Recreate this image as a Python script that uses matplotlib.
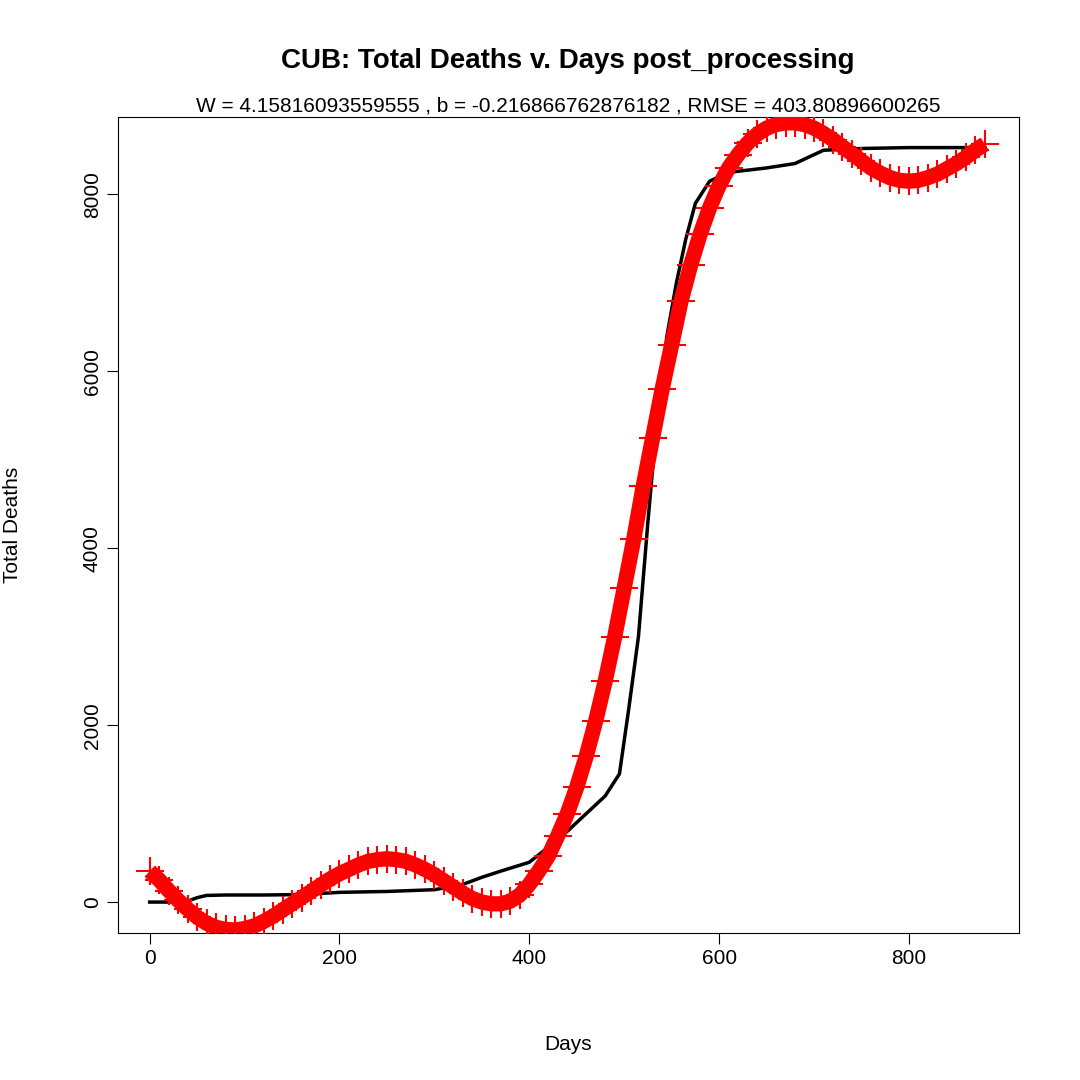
import matplotlib
matplotlib.use("Agg")
import matplotlib.pyplot as plt

plt.rcParams["font.family"] = ["Liberation Sans", "DejaVu Sans"]

# observed cumulative deaths
obs_days = [0, 20, 40, 50, 60, 80, 120, 160, 200, 250, 300, 330, 350, 370, 400, 420, 440,
            460, 480, 495, 505, 515, 525, 535, 545, 555, 565, 575, 590, 610, 650, 680,
            700, 710, 750, 800, 880]
obs_deaths = [0, 0, 10, 50, 75, 80, 80, 85, 110, 120, 140, 200, 280, 350, 450, 620, 800,
              1000, 1200, 1450, 2200, 3000, 4300, 5500, 6400, 7000, 7500, 7900, 8150,
              8250, 8300, 8350, 8450, 8500, 8520, 8530, 8530]

# fitted values
fit_days = list(range(0, 881, 10))
fit_deaths = [350, 250, 130, 20, -80, -170, -240, -285, -310, -315, -300, -270, -220, -160,
              -90, -20, 50, 120, 190, 260, 320, 370, 420, 460, 480, 490, 480, 460, 420, 370,
              310, 240, 170, 100, 40, 0, -20, -20, 10, 80, 200, 350, 520, 750, 1000, 1300,
              1650, 2050, 2500, 3000, 3550, 4100, 4700, 5250, 5800, 6300, 6800, 7200, 7550,
              7850, 8100, 8300, 8450, 8580, 8680, 8750, 8790, 8810, 8810, 8790, 8750, 8690,
              8620, 8540, 8460, 8380, 8300, 8240, 8190, 8160, 8150, 8160, 8190, 8230, 8290,
              8350, 8420, 8500, 8570]

fig = plt.figure(figsize=(10.8, 10.8), dpi=100)
ax = fig.add_axes([0.109, 0.136, 0.8345, 0.756])
ax.plot(obs_days, obs_deaths, color="black", linewidth=2.5, zorder=2)
# dense "+" band: thick line plus markers
ax.plot(fit_days, fit_deaths, color="red", linewidth=11, solid_capstyle="butt", zorder=3)
ax.plot(fit_days, fit_deaths, linestyle="none", marker="+", color="red",
        markersize=20, markeredgewidth=1.5, zorder=3)
ax.set_xlim(-33.7, 916)
ax.set_ylim(-351, 8880)
ax.set_xticks([0, 200, 400, 600, 800])
ax.set_yticks([0, 2000, 4000, 6000, 8000])
ax.tick_params(labelsize=15, length=8, direction="out")
for lab in ax.get_yticklabels():
    lab.set_rotation(90)
    lab.set_va("center")
ax.set_xlabel("Days", fontsize=15, labelpad=48)
ax.set_ylabel("Total Deaths", fontsize=15, labelpad=44)
fig.text(0.526, 0.9435, "CUB: Total Deaths v. Days post_processing", ha="center",
         va="center", fontsize=20, fontweight="bold")
ax.set_title("W = 4.15816093559555 , b = -0.216866762876182 , RMSE = 403.80896600265",
             fontsize=15, pad=4)
fig.savefig("out.png", dpi=100)
